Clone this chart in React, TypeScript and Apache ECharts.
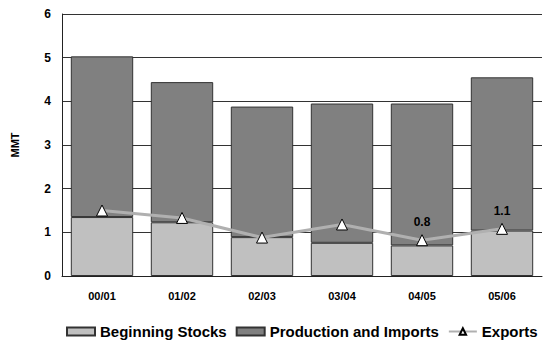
import React, { useEffect, useRef } from "react";
import * as echarts from "echarts";

const categories = ["00/01", "01/02", "02/03", "03/04", "04/05", "05/06"];
const beginningStocks = [1.35, 1.23, 0.89, 0.76, 0.7, 1.04];
const productionImports = [3.68, 3.21, 2.99, 3.19, 3.25, 3.51];
const exportsData = [1.5, 1.33, 0.88, 1.18, 0.82, 1.08];
const labelledExports = [4, 5];

export default function App() {
  const ref = useRef<HTMLDivElement>(null);
  useEffect(() => {
    const chart = echarts.init(ref.current!, null, { renderer: "svg" });
    const font = "Liberation Sans, Arial, sans-serif";
    chart.setOption({
      animation: false,
      textStyle: { fontFamily: font },
      grid: { left: 62, right: 1, top: 14, bottom: 66 },
      legend: {
        bottom: 3,
        left: 66,
        width: 477,
        padding: 0,
        itemWidth: 28,
        itemHeight: 8,
        itemGap: 9,
        textStyle: { fontFamily: font, fontWeight: "bold", fontSize: 15, color: "#000" },
        data: [
          { name: "Beginning Stocks", icon: "rect" },
          { name: "Production and Imports", icon: "rect" },
          { name: "Exports" },
        ],
      },
      xAxis: {
        type: "category",
        data: categories,
        axisTick: { show: false },
        axisLine: { lineStyle: { color: "#222", width: 1 } },
        axisLabel: { fontFamily: font, fontWeight: "bold", fontSize: 11, color: "#000", margin: 14 },
      },
      yAxis: {
        type: "value",
        min: 0,
        max: 6,
        interval: 1,
        name: "MMT",
        nameLocation: "middle",
        nameGap: 42,
        nameTextStyle: { fontFamily: font, fontWeight: "bold", fontSize: 11, color: "#000" },
        axisLine: { show: true, lineStyle: { color: "#222", width: 1 } },
        axisTick: { show: false },
        axisLabel: { fontFamily: font, fontWeight: "bold", fontSize: 12, color: "#000", margin: 11 },
        splitLine: { lineStyle: { color: "#333", width: 1 } },
      },
      series: [
        {
          name: "Beginning Stocks",
          type: "bar",
          stack: "total",
          barCategoryGap: "22%",
          data: beginningStocks,
          itemStyle: { color: "#c0c0c0", borderColor: "#333", borderWidth: 1 },
        },
        {
          name: "Production and Imports",
          type: "bar",
          stack: "total",
          data: productionImports,
          itemStyle: { color: "#808080", borderColor: "#333", borderWidth: 1 },
        },
        {
          name: "Exports",
          type: "line",
          data: exportsData.map((v, i) => ({
            value: v,
            label: { show: labelledExports.includes(i) },
          })),
          symbol: "triangle",
          symbolSize: 11,
          lineStyle: { color: "#b0b0b0", width: 3 },
          itemStyle: { color: "#fff", borderColor: "#000", borderWidth: 1 },
          label: {
            show: false,
            position: "top",
            distance: 6,
            fontFamily: font,
            fontWeight: "bold",
            fontSize: 12,
            color: "#000",
            formatter: (p: any) => Number(p.value).toFixed(1),
          },
          z: 5,
        },
      ],
    });
    return () => chart.dispose();
  }, []);
  return (
    <div
      ref={ref}
      style={{ position: "fixed", left: 0, top: 0, width: 543, height: 342, background: "#fff" }}
    />
  );
}
